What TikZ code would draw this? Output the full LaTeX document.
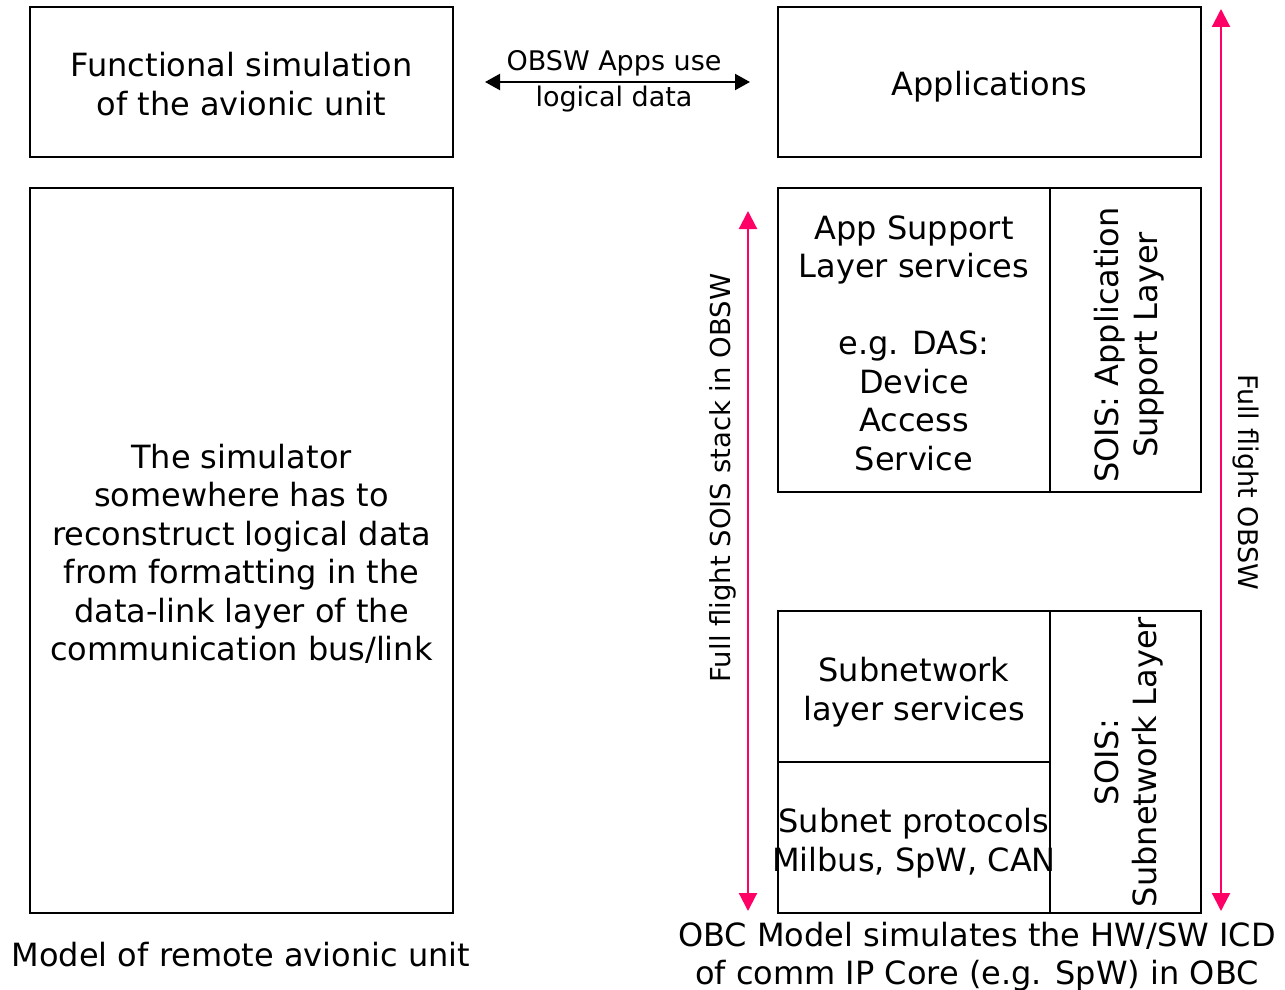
\documentclass[tikz,border=0pt]{standalone}
\usepackage{fontspec}
\setmainfont{DejaVu Sans}
\usetikzlibrary{arrows.meta}
\definecolor{pinkarrow}{RGB}{255,0,102}
\newcommand\bigtxt{\fontsize{32}{38.5}\selectfont}
\newcommand\midtxt{\fontsize{27}{33}\selectfont}
\newcommand\rottxt{\fontsize{27.5}{33}\selectfont}
\begin{document}
\begin{tikzpicture}[x=1pt,y=-1pt,
  box/.style={draw, line width=2.4pt, inner sep=0pt},
  lbl/.style={inner sep=0pt, align=center, font=\bigtxt},
  smlbl/.style={inner sep=0pt, align=center, font=\midtxt},
  rotlbl/.style={inner sep=0pt, align=center, font=\rottxt},
  pinkarr/.style={draw=pinkarrow, fill=pinkarrow, line width=2.2pt, {Triangle[length=18pt,width=18pt]}-{Triangle[length=18pt,width=18pt]}},
  blackarr/.style={draw=black, line width=2.2pt, {Triangle[length=15pt,width=16pt]}-{Triangle[length=15pt,width=16pt]}}
]
\useasboundingbox (0,0) rectangle (1285,990);
\fill[white] (0,0) rectangle (1285,990);

% top row
\node[box, minimum width=423pt, minimum height=150pt] (func) at (241.5,82) {};
\node[lbl] (functxt) at (241.5,84) {Functional simulation\\of the avionic unit};
\node[box, minimum width=423pt, minimum height=150pt] (apps) at (989.5,82) {};
\node[lbl] (appstxt) at (989.5,87) {Applications};

% left big box
\node[box, minimum width=423pt, minimum height=725pt] (sim) at (241.5,550.5) {};
\node[lbl] (simtxt) at (241.5,554) {The simulator\\somewhere has to\\reconstruct logical data\\from formatting in the\\data-link layer of the\\communication bus/link};

% app support layer
\node[box, minimum width=272pt, minimum height=304pt] (asl) at (914,340) {};
\node[lbl] (asltxt) at (914,343) {App Support\\Layer services\\\mbox{}\\e.g. DAS:\\Device\\Access\\Service};
\node[box, minimum width=151pt, minimum height=304pt] (soisapp) at (1125.5,340) {};
\node[lbl, rotate=90] (soisapptxt) at (1129,345) {SOIS: Application\\Support Layer};

% subnetwork
\node[box, minimum width=272pt, minimum height=151pt] (subsvc) at (914,686.5) {};
\node[lbl] (subsvctxt) at (914,692) {Subnetwork\\layer services};
\node[box, minimum width=272pt, minimum height=151pt] (subprot) at (914,837.5) {};
\node[lbl] (subprottxt) at (914,843) {Subnet protocols\\Milbus, SpW, CAN};
\node[box, minimum width=151pt, minimum height=302pt] (soissub) at (1125.5,762) {};
\node[lbl, rotate=90] (soissubtxt) at (1129,762) {SOIS:\\Subnetwork Layer};

% middle double arrow
\coordinate (mA) at (485,82);
\coordinate (mB) at (750,82);
\draw[blackarr] (mA) -- (mB);
\node[smlbl] (obswlbl) at (614,63) {OBSW Apps use};
\node[smlbl] (logdlbl) at (614,99) {logical data};

% pink arrows
\coordinate (p1t) at (748,211);
\coordinate (p1b) at (748,911);
\draw[pinkarr] (p1t) -- (p1b);
\node[rotlbl, rotate=90] (stacklbl) at (723,478) {Full flight SOIS stack in OBSW};

\coordinate (p2t) at (1221,9);
\coordinate (p2b) at (1221,911);
\draw[pinkarr] (p2t) -- (p2b);
\node[smlbl, rotate=-90] (obswfull) at (1246,482) {Full flight OBSW};

% bottom captions
\node[lbl] (remcap) at (241,955) {Model of remote avionic unit};
\node[lbl] (obccap) at (977,956.5) {OBC Model simulates the HW/SW ICD\\of comm IP Core (e.g. SpW) in OBC};
\end{tikzpicture}
\end{document}
